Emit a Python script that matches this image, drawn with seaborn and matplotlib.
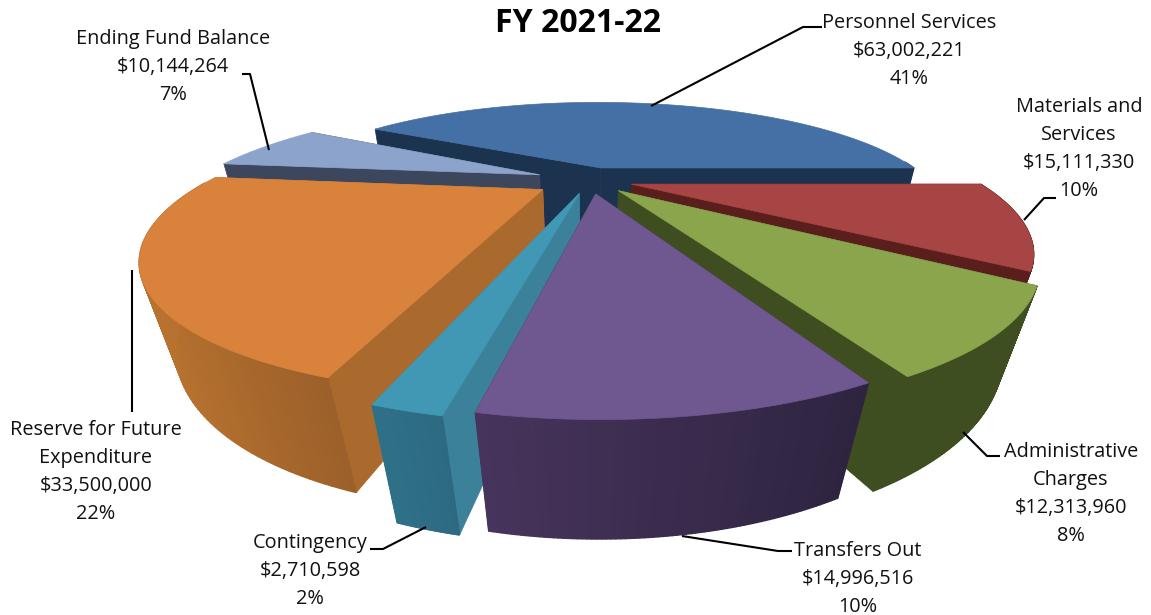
import numpy as np
import pandas as pd
import matplotlib.pyplot as plt
import seaborn as sns

# budget slices, clockwise, first slice ends due east
categories = ['Personnel Services', 'Materials and\nServices', 'Administrative\nCharges',
              'Transfers Out', 'Contingency', 'Reserve for Future\nExpenditure', 'Ending Fund Balance']
amounts = [63002221, 15111330, 12313960, 14996516, 2710598, 33500000, 10144264]
percents = ['41%', '10%', '8%', '10%', '2%', '22%', '7%']

top_colors = ['#4470A5', '#A64543', '#8AA54B', '#6F5790', '#4098B4', '#D8823C', '#8CA3CC']
side_colors = ['#1C3350', '#5A1E1C', '#3F4E20', '#3A2C50', '#3A8199', '#AA6A2E', '#3C475E']
wall_left = ['#1C3350', '#5A1E1C', '#3F4E20', '#47345C', '#2F7089', '#B8722F', '#3C475E']
wall_right = ['#1C3350', '#5A1E1C', '#3F4E20', '#2E2440', '#2D6A82', '#9C602A', '#3C475E']

# per slice pull-out and radius
explode = [0.11, 0.11, 0.11, 0.11, 0.11, 0.14, 0.14]
radius = [0.85, 0.885, 0.9, 0.89, 0.9, 0.865, 0.885]

# label centre x, first line y, leader path
label_x = [909, 1079, 1071, 858, 310, 96, 173]
label_y = [13, 97, 442, 541, 533, 420, 29]
leaders = [
    [(822, 27), (803, 27), (651, 106)],
    [(1056, 198), (1044, 198), (1024, 220)],
    [(1000, 456), (987, 456), (963, 432)],
    [(792, 551), (778, 551), (682, 536)],
    [(370, 549), (383, 549), (426, 527)],
    [(132, 412), (132, 270)],
    [(242, 74), (250, 74), (269, 150)],
]

sns.set_style("white")
plt.rcParams['font.family'] = ['Open Sans', 'DejaVu Sans']

df = pd.DataFrame({'category': categories, 'amount': amounts, 'pct': percents})
df['frac'] = df['amount'] / df['amount'].sum()
df['start'] = 360 * df['frac'].iloc[0] - 360 * df['frac'].cumsum().shift(fill_value=0)
df['end'] = df['start'] - 360 * df['frac']
df['mid'] = (df['start'] + df['end']) / 2

# camera
CX, CY = 590, 180
AX, AY, AZ = 388, 120, 84
PY, PZ = 0.5, 0.0675


def project(x, y, z):
    w = 1 / (1 + PY * y + PZ * z)
    return CX + AX * x * w, CY - AY * y * w + AZ * z * w


fig = plt.figure(figsize=(11.51, 6.15), dpi=100)
ax = fig.add_axes([0, 0, 1, 1])
ax.set_xlim(0, 1151)
ax.set_ylim(615, 0)
ax.axis('off')

# back to front
order = df.assign(back=np.sin(np.radians(df['mid']))).sort_values('back', ascending=False).index

for i in order:
    row = df.loc[i]
    ox = explode[i] * np.cos(np.radians(row['mid']))
    oy = explode[i] * np.sin(np.radians(row['mid']))
    theta = np.radians(np.linspace(row['start'], row['end'], 80))
    x = ox + radius[i] * np.cos(theta)
    y = oy + radius[i] * np.sin(theta)

    # side walls along the two radii
    for k in [-1, 0]:
        wx = [ox, x[k], x[k], ox]
        wy = [oy, y[k], y[k], oy]
        wz = [0, 0, 1, 1]
        px, py = project(np.array(wx), np.array(wy), np.array(wz))
        ax.fill(px, py, color=side_colors[i], lw=0.5, zorder=2)

    # rim, shaded by how far round it is
    px_mid = project(x, y, 0)[0]
    span = max(px_mid.max() - px_mid.min(), 1)
    shades = sns.blend_palette([wall_left[i], wall_right[i]], 60)
    for j in range(len(x) - 1):
        if np.sin(theta[j]) > 0.05 and np.sin(theta[j + 1]) > 0.05:
            continue
        wx = np.array([x[j], x[j + 1], x[j + 1], x[j]])
        wy = np.array([y[j], y[j + 1], y[j + 1], y[j]])
        px, py = project(wx, wy, np.array([0, 0, 1, 1]))
        shade = shades[int(59 * (px_mid[j] - px_mid.min()) / span)]
        ax.fill(px, py, color=shade, lw=1, zorder=2)

    px, py = project(np.r_[ox, x], np.r_[oy, y], np.zeros(len(x) + 1))
    ax.fill(px, py, color=top_colors[i], lw=0.5, zorder=2)

for i, row in df.iterrows():
    text = f"{row['category']}\n${row['amount']:,.0f}\n{row['pct']}"
    ax.text(label_x[i], label_y[i], text, ha='center', va='top', fontsize=14.3,
            linespacing=1.53, color='#111111', zorder=4)
    path = np.array(leaders[i])
    ax.plot(path[:, 0], path[:, 1], color='black', lw=1.5, zorder=3, solid_capstyle='butt')

ax.text(578, 24, 'FY 2021-22', ha='center', va='center', fontsize=23, fontweight='bold', color='black')

fig.savefig('out.png', dpi=100)
plt.close()
